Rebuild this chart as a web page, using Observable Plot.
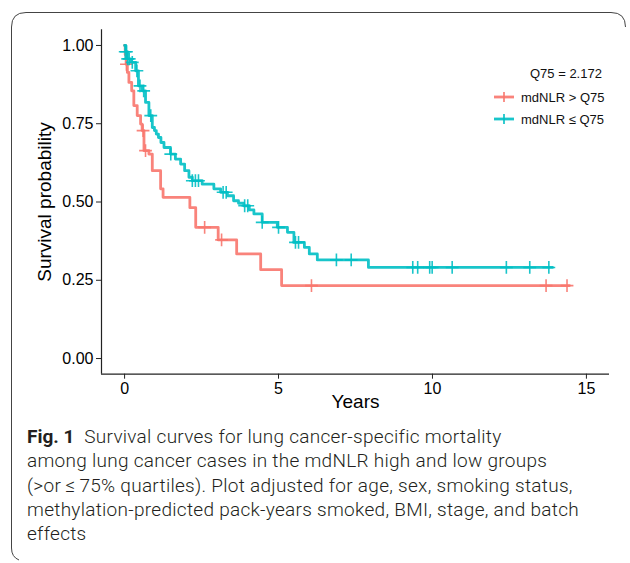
<!DOCTYPE html>
<html><head><meta charset="utf-8">
<script src="https://cdn.jsdelivr.net/npm/d3@7"></script>
<script src="https://cdn.jsdelivr.net/npm/@observablehq/plot@0.6"></script>
<style>
body{margin:0;background:#fff;}
#wrap{position:relative;width:630px;height:563px;overflow:hidden;background:#fff;}
#chart{position:absolute;left:0;top:0;}
#chart g[aria-label$="tick label"]{font-size:16px;}
#legend{position:absolute;left:0;top:0;width:630px;height:140px;pointer-events:none;font-family:"Liberation Sans",Arial,sans-serif;}
#caption{position:absolute;left:27px;top:425px;width:600px;font-family:Roboto,"Liberation Sans",sans-serif;font-weight:300;font-size:19px;letter-spacing:0.28px;line-height:24.3px;color:#231f20;white-space:nowrap;}
#caption b{font-weight:bold;letter-spacing:0;}
#border{position:absolute;left:0;top:0;}
</style></head>
<body><div id="wrap"><div id="chart"></div>
<svg id="legend" width="630" height="140"></svg>
<div id="caption"><b>Fig. 1</b>&nbsp; Survival curves for lung cancer-specific mortality<br>among lung cancer cases in the mdNLR high and low groups<br>(&gt;or&thinsp;≤&thinsp;75% quartiles). Plot adjusted for age, sex, smoking status,<br>methylation-predicted pack-years smoked, BMI, stage, and batch<br>effects</div>
<svg id="border" width="630" height="563"><path d="M11.5 548 L11.5 27 Q11.5 12.5 26 12.5 L611 12.5 Q625.5 12.5 625.5 27" fill="none" stroke="#444" stroke-width="1"/><path d="M11.5 548 Q11.5 557 19 560" fill="none" stroke="#444" stroke-width="1"/></svg>
</div>
<script>
const groups = ["mdNLR > Q75", "mdNLR ≤ Q75"];
const colors = ["#F8766D", "#00BFC4"];
const legendTitle = "Q75 = 2.172";
const xTicks = [0, 5, 10, 15];
const yTicks = [0, 0.25, 0.5, 0.75, 1];

const redTime = [0, 0.02, 0.05, 0.09, 0.14, 0.23, 0.30, 0.41, 0.52, 0.57, 0.63, 0.79, 0.90, 1.17, 1.25, 2.12, 2.31, 3.04, 3.64, 4.42, 5.10, 14.45];
const redSurv = [1.0, 0.97, 0.94, 0.914, 0.882, 0.855, 0.808, 0.776, 0.749, 0.728, 0.664, 0.653, 0.600, 0.542, 0.515, 0.482, 0.419, 0.379, 0.334, 0.284, 0.233, 0.233];
const redCensTime = [0.06, 0.60, 0.68, 2.60, 3.15, 6.07, 13.69, 14.37];
const redCensSurv = [0.94, 0.728, 0.664, 0.419, 0.379, 0.233, 0.233, 0.233];

const cyanTime = [0, 0.04, 0.09, 0.20, 0.36, 0.45, 0.57, 0.68, 0.79, 0.90, 0.97, 1.03, 1.10, 1.18, 1.28, 1.49, 1.65, 1.82, 1.95, 2.09, 2.20, 2.52, 2.90, 3.12, 3.34, 3.54, 3.70, 3.87, 4.05, 4.20, 4.47, 4.96, 5.29, 5.50, 5.84, 6.00, 6.26, 7.92, 13.9];
const cyanSurv = [1.0, 0.98, 0.957, 0.946, 0.919, 0.871, 0.855, 0.818, 0.776, 0.738, 0.728, 0.717, 0.706, 0.69, 0.674, 0.653, 0.637, 0.621, 0.600, 0.579, 0.568, 0.557, 0.542, 0.531, 0.52, 0.504, 0.496, 0.488, 0.475, 0.462, 0.435, 0.419, 0.403, 0.371, 0.355, 0.334, 0.315, 0.291, 0.291];
const cyanCensTime = [0.02, 0.06, 0.10, 0.15, 0.25, 0.40, 0.50, 0.62, 0.85, 1.50, 2.20, 2.30, 2.40, 3.20, 3.30, 3.90, 4.00, 4.47, 5.00, 5.55, 5.65, 6.88, 7.36, 9.36, 9.52, 9.91, 9.99, 10.64, 12.40, 13.16, 13.78];
const cyanCensSurv = [0.98, 0.98, 0.957, 0.957, 0.946, 0.919, 0.871, 0.855, 0.776, 0.653, 0.568, 0.568, 0.568, 0.531, 0.531, 0.488, 0.488, 0.435, 0.419, 0.371, 0.371, 0.315, 0.315, 0.291, 0.291, 0.291, 0.291, 0.291, 0.291, 0.291, 0.291];

const curve = [
  ...redTime.map((t, i) => ({t, s: redSurv[i], g: groups[0]})),
  ...cyanTime.map((t, i) => ({t, s: cyanSurv[i], g: groups[1]}))
];
const cens = [
  ...redCensTime.map((t, i) => ({t, s: redCensSurv[i], g: groups[0]})),
  ...cyanCensTime.map((t, i) => ({t, s: cyanCensSurv[i], g: groups[1]}))
];

const font = "'Liberation Sans', Arial, sans-serif";
const chart = Plot.plot({
  width: 630, height: 425,
  marginLeft: 101, marginRight: 21, marginTop: 29.3, marginBottom: 51.3,
  style: {fontFamily: font, fontSize: "16px", color: "#000", background: "transparent"},
  x: {domain: [-0.75, 15.75]},
  y: {domain: [-0.05, 1.05]},
  color: {domain: groups, range: colors},
  marks: [
    Plot.axisX({ticks: xTicks, tickSize: 5, tickPadding: 3, fontSize: 16, label: null, stroke: "#222", fill: "#000"}),
    Plot.axisY({ticks: yTicks, tickSize: 5, tickPadding: 3, fontSize: 16, label: null, tickFormat: d3.format(".2f"), stroke: "#222", fill: "#000"}),
    Plot.ruleX([-0.75], {stroke: "#222", strokeWidth: 1.2}),
    Plot.ruleY([-0.05], {stroke: "#222", strokeWidth: 1.2}),
    Plot.line(curve, {x: "t", y: "s", z: "g", stroke: "g", curve: "step-after", strokeWidth: 2.8, strokeOpacity: 0.9}),
    Plot.dot(cens, {x: "t", y: "s", stroke: "g", symbol: "plus", r: 4.2, strokeWidth: 1.6, strokeOpacity: 0.9}),
    Plot.text(["Years"], {frameAnchor: "bottom", dy: 34, fontSize: 19, fill: "#000"}),
    Plot.text(["Survival probability"], {frameAnchor: "left", textAnchor: "middle", dx: -57, rotate: -90, fontSize: 19, fill: "#000"})
  ]
});
document.getElementById("chart").appendChild(chart);

// legend
const lg = d3.select("#legend");
lg.append("text").attr("x", 530).attr("y", 73).attr("dy", "0.35em").attr("font-size", 13).attr("fill", "#111").text(legendTitle);
groups.forEach((g, i) => {
  const y = 97 + i * 22;
  lg.append("line").attr("x1", 494).attr("x2", 514).attr("y1", y).attr("y2", y).attr("stroke", colors[i]).attr("stroke-width", 2.8).attr("stroke-opacity", 0.9);
  lg.append("line").attr("x1", 504).attr("x2", 504).attr("y1", y - 5).attr("y2", y + 5).attr("stroke", colors[i]).attr("stroke-width", 1.6);
  lg.append("text").attr("x", 521).attr("y", y).attr("dy", "0.35em").attr("font-size", 13).attr("fill", "#111").text(g);
});
</script></body></html>
